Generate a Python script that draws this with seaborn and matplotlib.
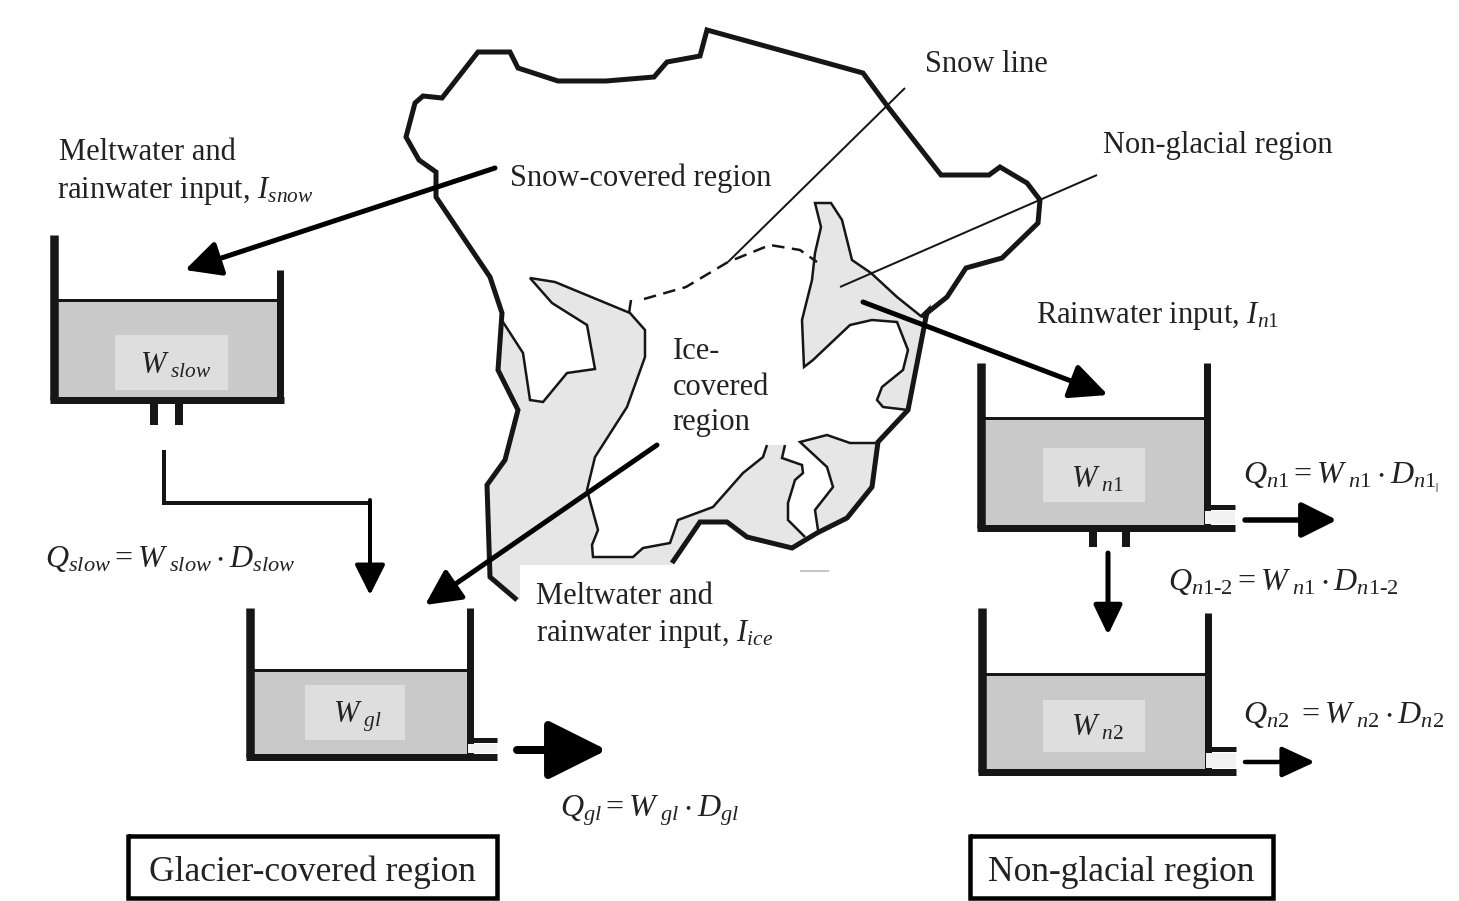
import matplotlib
matplotlib.use("Agg")
import matplotlib.pyplot as plt
import seaborn as sns

# everything is in picture pixels, y goes down
outer_top = [(517, 600), (490, 577), (487, 485), (505, 460), (518, 410), (498, 370), (502, 313), (490, 277),
             (436, 197), (436, 172), (419, 160), (406, 137), (415, 103), (423, 96), (442, 98), (478, 52),
             (510, 52), (518, 68), (558, 81), (606, 81), (654, 77), (667, 62), (700, 56), (707, 30),
             (863, 73), (888, 107), (941, 175), (989, 175), (1000, 167), (1027, 183), (1040, 200), (1038, 223),
             (1002, 258), (966, 268), (947, 297), (922, 317), (927, 312), (908, 410), (878, 442), (872, 487),
             (847, 518), (817, 533), (792, 548), (747, 537), (727, 522), (700, 522), (672, 563)]

patch_west = [(502, 322), (498, 370), (518, 410), (505, 460), (487, 485), (490, 577), (517, 600), (672, 600),
              (672, 563), (700, 522), (727, 522), (747, 537), (792, 548), (805, 537), (788, 520), (788, 503),
              (795, 480), (803, 473), (802, 465), (782, 458), (785, 445), (767, 445), (763, 457), (743, 473),
              (713, 507), (678, 520), (670, 543), (643, 548), (633, 557), (593, 557), (592, 545), (598, 530),
              (587, 490), (595, 457), (627, 407), (645, 357), (645, 330), (630, 313), (555, 282), (530, 278),
              (552, 303), (587, 325), (595, 369), (567, 373), (543, 402), (530, 400), (523, 353)]
patch_south = [(800, 442), (827, 435), (850, 443), (877, 443), (872, 487), (847, 518), (818, 530), (815, 510),
               (833, 487), (827, 467)]
patch_east = [(815, 203), (831, 203), (842, 220), (852, 260), (871, 273), (897, 297), (922, 317), (927, 312),
              (908, 410), (883, 407), (877, 400), (882, 387), (903, 370), (908, 350), (897, 322), (872, 320),
              (850, 325), (813, 360), (804, 367), (802, 320), (812, 280), (815, 253), (821, 227)]

inner_lines = [
    [(503, 322), (523, 353), (530, 400), (543, 402), (567, 373), (595, 369), (587, 325), (552, 303), (530, 278),
     (555, 282), (630, 313), (645, 330), (645, 357), (627, 407), (595, 457), (587, 490), (598, 530), (592, 545),
     (593, 557), (633, 557), (643, 548), (670, 543), (678, 520), (713, 507), (743, 473), (763, 457), (767, 445)],
    [(785, 445), (782, 458), (802, 465), (803, 473), (795, 480), (788, 503), (788, 520), (805, 537)],
    [(877, 443), (850, 443), (827, 435), (800, 442), (827, 467), (833, 487), (815, 510), (818, 530)],
    [(922, 317), (897, 297), (871, 273), (852, 260), (842, 220), (831, 203), (815, 203), (821, 227), (815, 253),
     (812, 280), (802, 320), (804, 367), (813, 360), (850, 325), (872, 320), (897, 322), (908, 350), (903, 370),
     (882, 387), (877, 400), (883, 407), (908, 410)],
    [(631, 300), (629, 313)],
]
snow_line = [(905, 88), (728, 262)]
snow_dash = [(644, 299), (686, 287), (728, 262), (770, 245), (800, 250), (817, 262)]
nonglacial_line = [(1097, 175), (840, 287)]

# arrows: start, tip, line width, head length, head half width
arrows = [
    ((495, 168), (185, 270), 5, 30, 15),
    ((657, 445), (425, 605), 5, 30, 15),
    ((863, 302), (1108, 395), 5, 32, 15),
    ((370, 500), (370, 595), 4, 26, 13),
    ((517, 750), (607, 750), 8, 50, 25),
    ((1245, 520), (1337, 520), 5.5, 30, 15),
    ((1108, 553), (1108, 635), 5, 25, 12),
    ((1245, 762), (1315, 762), 4.5, 28, 13),
]
flow_pipe = [(164, 450), (164, 503), (370, 503)]

# tanks: left, right, top of left wall, top of right wall, water level, floor, outlet
tank_left = [54, 250, 981, 982]
tank_right = [280, 470, 1207, 1208]
wall_top_left = [235, 608, 363, 608]
wall_top_right = [270, 608, 363, 613]
water_level = [300, 670, 418, 674]
tank_floor = [400, 757, 528, 772]
outlet_top = [None, 740, 507, 749]
outlet_end = [None, 497, 1235, 1236]
label_boxes = [(115, 335, 228, 390), (305, 685, 405, 740), (1043, 448, 1145, 502), (1043, 700, 1145, 752)]
floor_pipes = [(154, 179, 400, 425), (1093, 1126, 528, 547)]

labels = [
    (925, 72, "Snow line"),
    (1103, 153, "Non-glacial region"),
    (510, 186, "Snow-covered region"),
    (59, 160, "Meltwater and"),
    (57, 198, r"rainwater input, $I_{snow}$"),
    (1036, 323, r"Rainwater input, $I_{n1}$"),
    (673, 359, "Ice-"),
    (673, 395, "covered"),
    (672, 430, "region"),
    (536, 604, "Meltwater and"),
    (536, 641, r"rainwater input, $I_{ice}$"),
]
formulas = [
    (45, 567, r"$Q_{slow} = W_{\ slow} \cdot D_{slow}$"),
    (560, 817, r"$Q_{gl} = W_{\ gl} \cdot D_{gl}$"),
    (1243, 483, r"$Q_{n1} = W_{\ n1} \cdot D_{n1}$"),
    (1168, 590, r"$Q_{n1\text{-}2} = W_{\ n1} \cdot D_{n1\text{-}2}$"),
    (1243, 723, r"$Q_{n2}\ = W_{\ n2} \cdot D_{n2}$"),
]
tank_names = [
    (140, 373, r"$W_{\ slow}$"),
    (333, 722, r"$W_{\ gl}$"),
    (1071, 487, r"$W_{\ n1}$"),
    (1071, 735, r"$W_{\ n2}$"),
]
region_boxes = [(128, 836, 497, 898, "Glacier-covered region"), (970, 836, 1273, 898, "Non-glacial region")]

sns.set_theme(style="white")
plt.rcParams["font.family"] = ["Liberation Serif", "DejaVu Serif"]
plt.rcParams["mathtext.fontset"] = "custom"
plt.rcParams["mathtext.rm"] = "Liberation Serif"
plt.rcParams["mathtext.it"] = "Liberation Serif:italic"
plt.rcParams["mathtext.fallback"] = "stix"

INK = "#161616"
PX = 0.72  # one pixel in points at dpi 100


def line(ax, pts, width, color=INK, **kw):
    xs = [p[0] for p in pts]
    ys = [p[1] for p in pts]
    sns.lineplot(x=xs, y=ys, sort=False, estimator=None, color=color, linewidth=width * PX, ax=ax,
                 legend=False, solid_capstyle="butt", solid_joinstyle="miter", **kw)


def area(ax, pts, color, z):
    ax.fill([p[0] for p in pts], [p[1] for p in pts], color=color, linewidth=0, zorder=z)


def rect(ax, x0, y0, x1, y1, color, z):
    area(ax, [(x0, y0), (x1, y0), (x1, y1), (x0, y1)], color, z)


fig = plt.figure(figsize=(14.59, 9.01), dpi=100)
ax = fig.add_axes([0, 0, 1, 1])
ax.set_xlim(0, 1459)
ax.set_ylim(901, 0)
ax.axis("off")

# catchment map
for patch in (patch_west, patch_south, patch_east):
    area(ax, patch, "#e6e6e6", 1)
for pts in inner_lines:
    line(ax, pts, 2.5, zorder=2)
line(ax, outer_top, 5, zorder=2)
line(ax, snow_line, 2, zorder=2)
line(ax, snow_dash, 2.5, linestyle=(0, (5, 3)), zorder=2)
line(ax, nonglacial_line, 2, zorder=2)

# white paper behind the lower text, hides the map edge
rect(ax, 520, 565, 800, 660, "white", 3)
line(ax, [(800, 571), (829, 571)], 1.5, color="#b5b5b5", zorder=3)

# tanks
for i in range(4):
    left, right = tank_left[i], tank_right[i]
    rect(ax, left, water_level[i], right, tank_floor[i], "#c9c9c9", 4)
    box = label_boxes[i]
    rect(ax, box[0], box[1], box[2], box[3], "#dedede", 4)
    line(ax, [(left, wall_top_left[i]), (left, tank_floor[i])], 8.5, zorder=5)
    line(ax, [(right, wall_top_right[i]), (right, tank_floor[i])], 7, zorder=5)
    end = outlet_end[i] if outlet_end[i] else right + 3.5
    line(ax, [(left - 4, tank_floor[i]), (end, tank_floor[i])], 7, zorder=5)
    line(ax, [(left, water_level[i]), (right, water_level[i])], 3, zorder=5)
    if outlet_top[i]:
        line(ax, [(right - 3, outlet_top[i]), (end, outlet_top[i])], 5, zorder=5)
        rect(ax, right - 2, outlet_top[i] + 4, end, tank_floor[i] - 4, "#f2f2f2", 6)
for x0, x1, y0, y1 in floor_pipes:
    line(ax, [(x0, y0), (x0, y1)], 8, zorder=5)
    line(ax, [(x1, y0), (x1, y1)], 8, zorder=5)
line(ax, flow_pipe, 4, zorder=5)

for start, tip, width, head_len, head_half in arrows:
    style = f"-|>,head_length={head_len * PX},head_width={head_half * PX}"
    ax.annotate("", xy=tip, xytext=start, zorder=6,
                arrowprops=dict(arrowstyle=style, color="black", linewidth=width * PX, mutation_scale=1,
                                shrinkA=0, shrinkB=0))

for x, y, s in labels:
    ax.text(x, y, s, fontsize=22, color="#222222", va="baseline", ha="left", zorder=7)
for x, y, s in formulas:
    ax.text(x, y, s, fontsize=23, color="#222222", va="baseline", ha="left", zorder=7)
for x, y, s in tank_names:
    ax.text(x, y, s, fontsize=22, color="#222222", va="baseline", ha="left", zorder=7)
line(ax, [(1437, 483), (1437, 492)], 1.5, color="#888888", zorder=7)

for x0, y0, x1, y1, s in region_boxes:
    line(ax, [(x0, y0), (x1, y0), (x1, y1), (x0, y1), (x0, y0 - 2)], 4.5, color="black", zorder=7)
    ax.text((x0 + x1) / 2, 881, s, fontsize=25.5, color="#222222", ha="center", va="baseline", zorder=8)

fig.savefig("out.png", dpi=100)
